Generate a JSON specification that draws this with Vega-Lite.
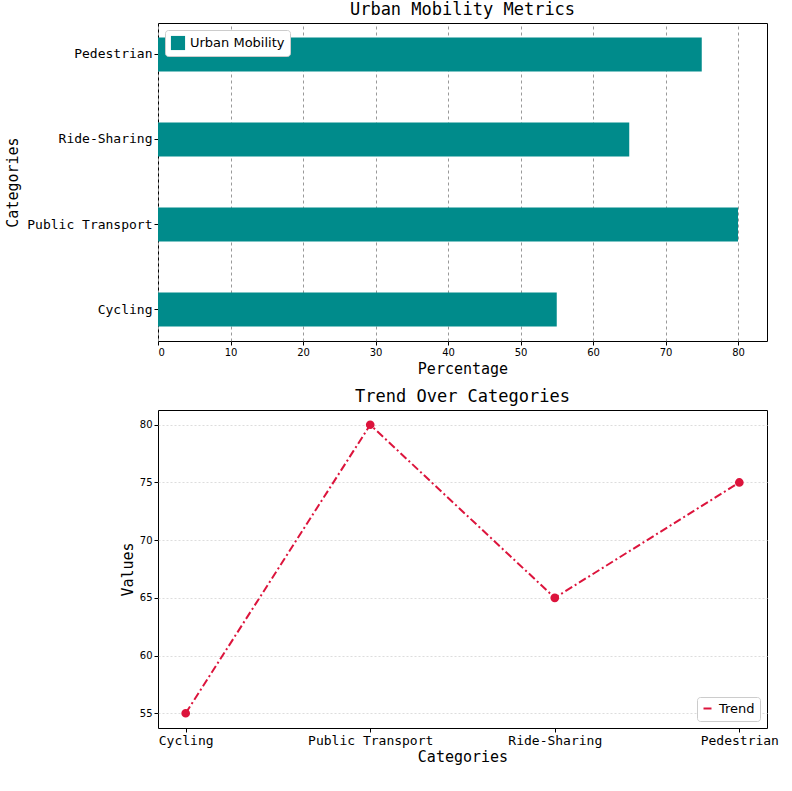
{
"$schema":"https://vega.github.io/schema/vega-lite/v6.json",
"background":"white",
"padding":{"left":5,"top":0,"right":20,"bottom":2},
"spacing":10,
"resolve":{"legend":{"fill":"independent","stroke":"independent"}},
"data":{"values":[
{"c":"Cycling","v":55,"s":"Urban Mobility","t":"Trend"},
{"c":"Public Transport","v":80,"s":"Urban Mobility","t":"Trend"},
{"c":"Ride-Sharing","v":65,"s":"Urban Mobility","t":"Trend"},
{"c":"Pedestrian","v":75,"s":"Urban Mobility","t":"Trend"}]},
"config":{"view":{"stroke":"black","strokeWidth":1},
"axis":{"labelFont":"DejaVu Sans","labelFontSize":10,"labelColor":"black","titleFont":"DejaVu Sans Mono","titleFontSize":15,"titleFontWeight":"normal","titleColor":"black","domain":false,"tickColor":"black","tickSize":4},
"title":{"font":"DejaVu Sans Mono","fontSize":17,"fontWeight":"normal","offset":4},
"legend":{"labelFont":"DejaVu Sans","labelFontSize":13,"strokeColor":"#ccc","fillColor":"white","padding":5,"cornerRadius":3,"title":null}},
"vconcat":[
{"width":609,"height":318,"title":"Urban Mobility Metrics",
"mark":{"type":"bar","color":"#008B8B"},
"encoding":{
"y":{"field":"c","type":"nominal","sort":["Pedestrian","Ride-Sharing","Public Transport","Cycling"],"title":"Categories","scale":{"paddingInner":0.6,"paddingOuter":0.17},"axis":{"labelFont":"DejaVu Sans Mono","labelFontSize":13,"titlePadding":6}},
"x":{"field":"v","type":"quantitative","title":"Percentage","scale":{"domain":[0,84],"nice":false},"axis":{"values":[0,10,20,30,40,50,60,70,80],"gridDash":[3,3],"gridColor":"#999","titlePadding":4}},
"fill":{"field":"s","type":"nominal","scale":{"range":["#008B8B"]},"legend":{"orient":"top-left","offset":7,"symbolType":"square","symbolSize":200}}}},
{"width":609,"height":318,"title":"Trend Over Categories",
"mark":{"type":"line","color":"#DC143C","strokeWidth":2,"strokeDash":[8,3,2,3],"point":{"filled":true,"size":45,"color":"#DC143C"}},
"encoding":{
"x":{"field":"c","type":"nominal","sort":["Cycling","Public Transport","Ride-Sharing","Pedestrian"],"title":"Categories","scale":{"type":"point","padding":0.15},"axis":{"labelAngle":0,"labelFont":"DejaVu Sans Mono","labelFontSize":13,"grid":false,"titlePadding":2}},
"y":{"field":"v","type":"quantitative","title":"Values","scale":{"domain":[53.72,81.28],"nice":false,"zero":false},"axis":{"values":[55,60,65,70,75,80],"gridDash":[2,2],"gridColor":"#ddd"}},
"stroke":{"field":"t","type":"nominal","scale":{"range":["#DC143C"]},"legend":{"orient":"bottom-right","offset":7,"symbolType":"stroke","symbolStrokeWidth":2,"symbolDash":[8,3,2,3]}}}}
]}
